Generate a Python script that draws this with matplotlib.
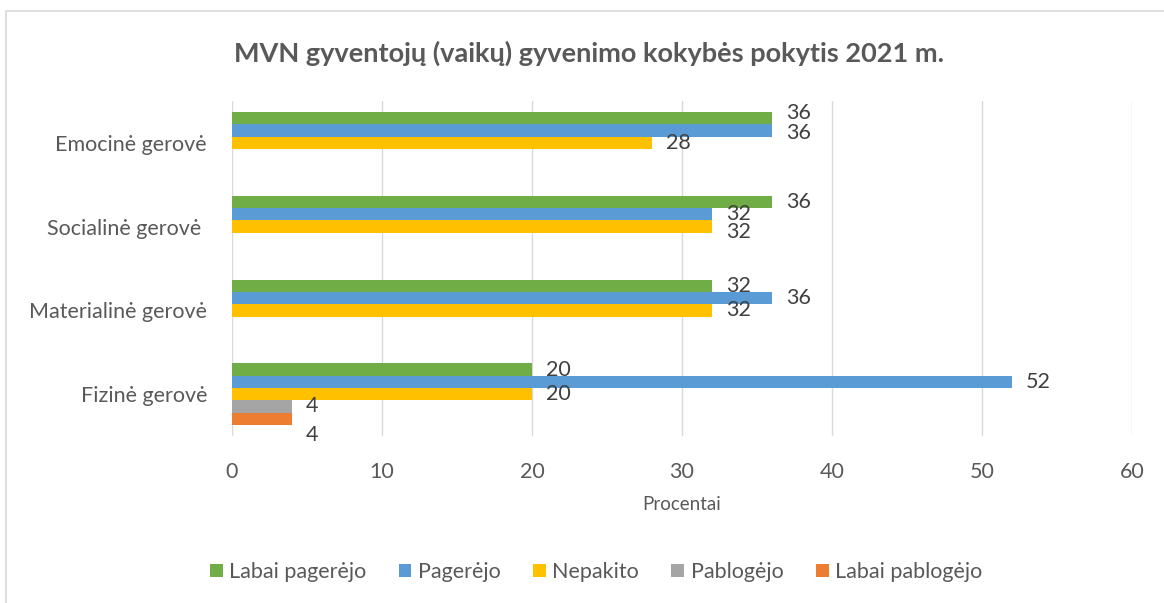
import matplotlib
matplotlib.use("Agg")
import matplotlib.pyplot as plt
import numpy as np
from matplotlib.patches import Rectangle, Patch

plt.rcParams["font.family"] = ["Lato", "DejaVu Sans"]

# categories (bottom -> top in the chart)
categories = ["Fizinė gerovė", "Materialinė gerovė", "Socialinė gerovė ", "Emocinė gerovė"]
series = ["Labai pagerėjo", "Pagerėjo", "Nepakito", "Pablogėjo", "Labai pablogėjo"]
labai_pagerejo = [20, 32, 36, 36]
pagerejo = [52, 36, 32, 36]
nepakito = [20, 32, 32, 28]
pablogejo = [4, 0, 0, 0]
labai_pablogejo = [4, 0, 0, 0]
values = [labai_pagerejo, pagerejo, nepakito, pablogejo, labai_pablogejo]
colors = ["#70ad47", "#5b9bd5", "#ffc000", "#a5a5a5", "#ed7d31"]

# small vertical nudges (points) for overlapping data labels, Excel-style
nudge = {(0, 3): 3.5, (1, 3): -1.5, (2, 2): -4, (4, 0): -12}

W, H = 1164, 603
fig = plt.figure(figsize=(W / 100, H / 100), dpi=100)
fig.patch.set_facecolor("white")
fig.add_artist(Rectangle((5.5 / W, -0.1), 1.2, 1.1 - 11.5 / H, transform=fig.transFigure,
                         fill=False, edgecolor="#d9d9d9", linewidth=1.2))

ax = fig.add_axes([232 / W, 1 - 436 / H, 900 / W, 335 / H])
y = np.arange(len(categories))
bh = 0.147
for i, (name, vals, c) in enumerate(zip(series, values, colors)):
    pos = y + (2 - i) * bh
    ax.barh(pos, vals, height=bh, color=c, label=name, zorder=3)
    for j, (p, v) in enumerate(zip(pos, vals)):
        if v == 0:
            continue
        ax.annotate(str(v), (v, p), xytext=(10, nudge.get((i, j), 0)), textcoords="offset points",
                    ha="left", va="center", fontsize=15.5, color="#404040")

ax.set_xlim(0, 60)
ax.set_ylim(-0.5, len(categories) - 0.5)
ax.set_xticks(range(0, 61, 10))
ax.set_yticks(y)
ax.set_yticklabels(categories)
ax.tick_params(axis="both", length=0, labelsize=15.5, labelcolor="#595959")
ax.tick_params(axis="x", pad=19)
ax.tick_params(axis="y", pad=18)
ax.grid(axis="x", color="#d9d9d9", linewidth=1, zorder=0)
for sp in ax.spines.values():
    sp.set_visible(False)
ax.set_xlabel("Procentai", fontsize=13.5, color="#595959", labelpad=10)

fig.text(589 / W, 1 - 53 / H, "MVN gyventojų (vaikų) gyvenimo kokybės pokytis 2021 m.",
         ha="center", va="center", fontsize=19.5, fontweight="bold", color="#595959")

handles = [Patch(facecolor=c, label=s) for s, c in zip(series, colors)]
fig.legend(handles=handles, loc="center", bbox_to_anchor=(596 / W, 1 - 572 / H), ncol=5,
           frameon=False, fontsize=15.5, handlelength=0.6, handleheight=0.6,
           handletextpad=0.3, columnspacing=1.5, labelcolor="#595959")

fig.savefig("out.png", dpi=100, facecolor="white")
